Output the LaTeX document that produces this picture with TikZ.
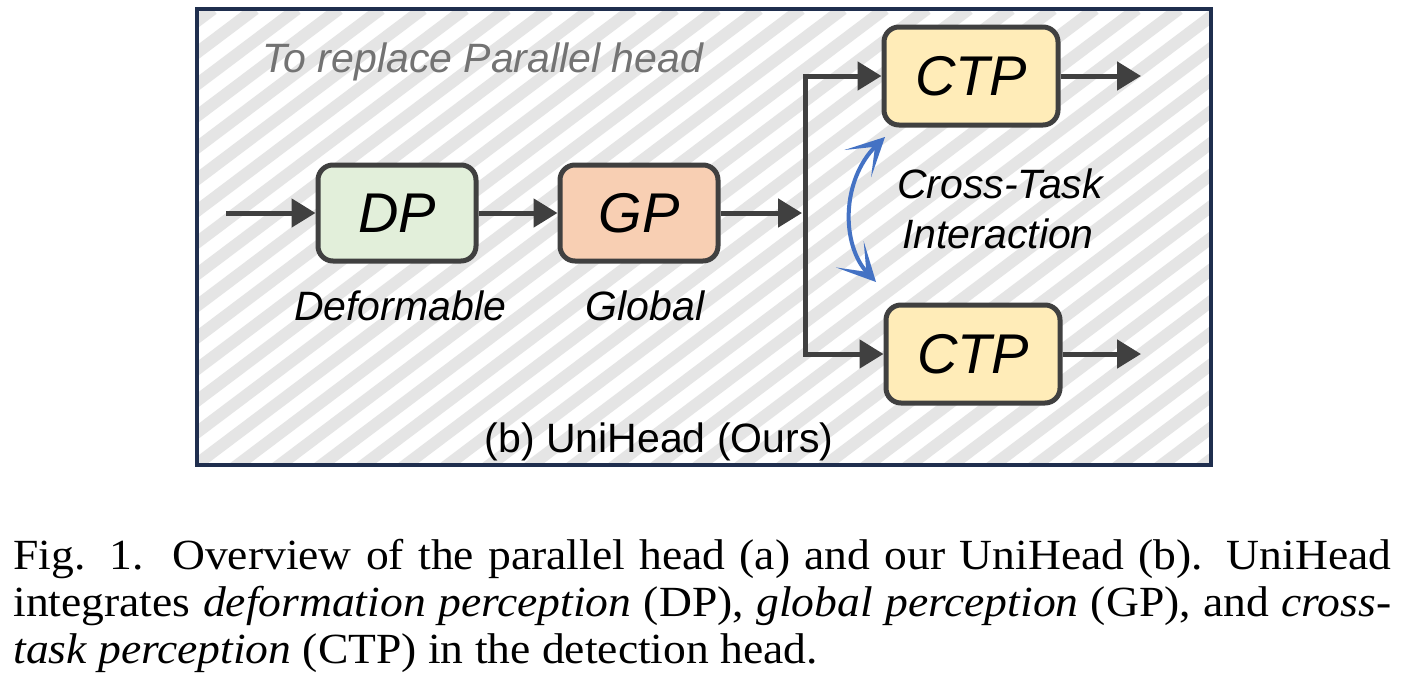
\documentclass[tikz,border=0pt]{standalone}
\usepackage{fontspec}
\setmainfont{Liberation Serif}
\newfontfamily\capfont[FakeStretch=1.06]{Liberation Serif}
\newfontfamily\arialf{Liberation Sans}
\usetikzlibrary{arrows.meta}
\definecolor{dpfill}{HTML}{E2EFDA}
\definecolor{gpfill}{HTML}{F8CFB3}
\definecolor{ctpfill}{HTML}{FFECB8}
\definecolor{edgec}{HTML}{404040}
\definecolor{framec}{HTML}{1F2E4E}
\definecolor{stripec}{HTML}{E5E5E5}
\definecolor{bluec}{HTML}{4472C4}
\definecolor{titlec}{HTML}{737373}
\tikzset{bluetip/.tip={Stealth[length=19pt,width=19pt,inset=12pt]}}
\begin{document}
\begin{tikzpicture}[x=0.5pt,y=-0.5pt,
  blk/.style={draw=edgec, line width=2.5pt, rounded corners=7.5pt, minimum width=79pt, minimum height=48pt, inner sep=0pt, font=\arialf\itshape\fontsize{28}{32}\selectfont},
  ctpblk/.style={blk, fill=ctpfill, minimum width=87pt, minimum height=49pt},
  flow/.style={draw=edgec, line width=2.5pt, -{Triangle[length=12pt,width=14pt]}},
  lbl/.style={font=\arialf\itshape\fontsize{20.5}{24}\selectfont, inner sep=0pt},
  stripe/.style={draw=stripec, line width=6pt},
  capline/.style={inner sep=0pt, anchor=base west, font=\capfont\fontsize{21.5}{25}\selectfont}
]
\useasboundingbox[fill=white] (0,0) rectangle (1412,696);
% hatched panel
\begin{scope}
  \clip (197,9) rectangle (1211,465);
  \foreach \k in {-16,...,26} {
    \draw[stripe] ({189+42*\k},470) -- ++(612,-461);
  }
\end{scope}
\draw[framec, line width=1.6pt] (197,9) rectangle (1211,465);

% blocks
\node[blk, fill=dpfill] (dp) at (397,213) {DP};
\node[blk, fill=gpfill] (gp) at (639,213) {GP};
\node[ctpblk] (ctp1) at (971,76) {CTP};
\node[ctpblk] (ctp2) at (973,354) {CTP};

% coordinates
\coordinate (in) at (226,213);
\coordinate (split) at (802,213);
\coordinate (vmid) at (805,213);
\coordinate (out1) at (1141,76);
\coordinate (out2) at (1141,354);

\draw[flow] (in) -- (dp);
\draw[flow] (dp) -- (gp);
\draw[flow] (gp) -- (split);
\draw[flow] (vmid) |- (ctp1);
\draw[flow] (vmid) |- (ctp2);
\draw[flow] (ctp1) -- (out1);
\draw[flow] (ctp2) -- (out2);

% cross-task interaction
\coordinate (b1) at (885,137);
\coordinate (b2) at (876,282);
\draw[bluec, line width=2pt, {bluetip}-{bluetip}]
  (b1) .. controls (841,180) and (841,245) .. (b2);

% labels
\node[lbl, text=titlec, anchor=base west] (title) at (262,72) {To replace Parallel head};
\node[lbl, anchor=base] (deflbl) at (400,320) {Deformable};
\node[lbl, anchor=base] (glblbl) at (645,320) {Global};
\node[lbl, anchor=base] (ct1) at (1000,198) {Cross-Task};
\node[lbl, anchor=base] (ct2) at (998,248) {Interaction};
\node[font=\arialf\fontsize{20.5}{24}\selectfont, inner sep=0pt, anchor=base] (sub) at (659,452) {(b) UniHead (Ours)};

% caption
\node[capline] (cap1) at (13,569) {\makebox[689pt][s]{Fig. 1.\ \ Overview of the parallel head (a) and our UniHead (b). UniHead}};
\node[capline] (cap2) at (13,616) {\makebox[689pt][s]{integrates \textit{deformation perception} (DP), \textit{global perception} (GP), and \textit{cross-}}};
\node[capline] (cap3) at (13,663) {\textit{task perception} (CTP) in the detection head.};
\end{tikzpicture}
\end{document}
